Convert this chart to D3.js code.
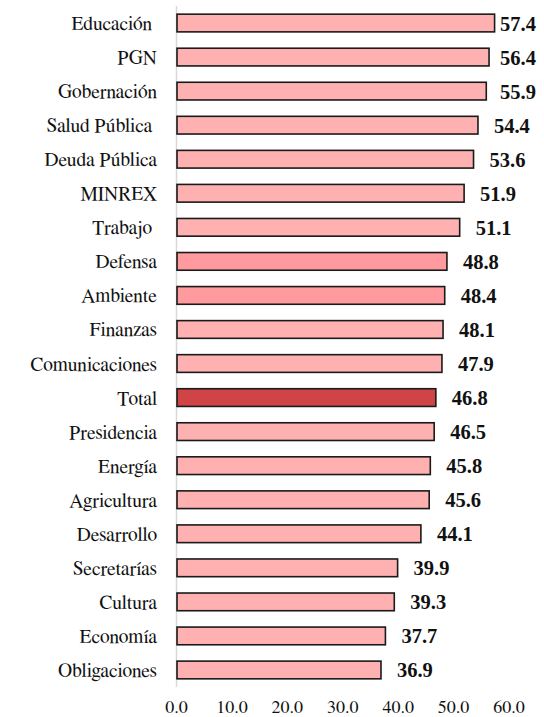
<!DOCTYPE html>
<html><head><meta charset="utf-8">
<script src="https://cdn.jsdelivr.net/npm/d3@7"></script>
</head><body style="margin:0">
<script>
const categories = ["Educación ","PGN","Gobernación","Salud Pública ","Deuda Pública","MINREX","Trabajo ","Defensa","Ambiente","Finanzas","Comunicaciones","Total","Presidencia","Energía","Agricultura","Desarrollo","Secretarías","Cultura","Economía","Obligaciones"];
const values = [57.4,56.4,55.9,54.4,53.6,51.9,51.1,48.8,48.4,48.1,47.9,46.8,46.5,45.8,45.6,44.1,39.9,39.3,37.7,36.9];
const barKind = ["n","n","n","n","n","n","n","m","m","n","n","t","n","n","n","n","n","n","n","n"];
const tickValues = [0,10,20,30,40,50,60];

const W = 544, H = 717;
const colors = {n:"#ffb1b1", m:"#ff9a9e", t:"#d04448"};
const REG_FONT = '"FreeSerif", "Nimbus Roman", "Liberation Serif", serif';
const svg = d3.select("body").append("svg").attr("width", W).attr("height", H).style("display","block");

const x = d3.scaleLinear().domain([0,60]).range([176.5, 509]);
const y = d3.scaleBand().domain(d3.range(categories.length)).range([6, 687]).paddingInner(0.48).paddingOuter(0.24);

svg.append("line").attr("x1", 176.5).attr("x2", 176.5).attr("y1", 6).attr("y2", 687)
  .attr("stroke", "#d9d9d9").attr("stroke-width", 1.5);

svg.selectAll("rect.bar").data(values).join("rect")
  .attr("class","bar")
  .attr("x", x(0)+0.5)
  .attr("y", (d,i) => y(i))
  .attr("width", d => x(d) - x(0) - 0.5)
  .attr("height", y.bandwidth())
  .attr("fill", (d,i) => colors[barKind[i]])
  .attr("stroke", "#1a1a1a").attr("stroke-width", 1.6);

svg.selectAll("text.cat").data(categories).join("text")
  .attr("class","cat")
  .attr("x", 157)
  .attr("y", (d,i) => y(i) + y.bandwidth()/2 + 7)
  .attr("text-anchor", "end")
  .style("font-family", REG_FONT)
  .attr("font-size", 19.5)
  .attr("xml:space", "preserve")
  .attr("fill", "#111")
  .text(d => d);

svg.selectAll("text.val").data(values).join("text")
  .attr("class","val")
  .attr("x", d => Math.min(x(d) + 16, 500))
  .attr("y", (d,i) => y(i) + y.bandwidth()/2 + 7.5)
  .style("font-family", '"Liberation Serif"')
  .attr("font-weight", "bold")
  .attr("font-size", 20.5)
  .attr("fill", "#111")
  .text(d => d3.format(".1f")(d));

svg.append("g").selectAll("text.tick").data(tickValues).join("text")
  .attr("class","tick")
  .attr("x", d => x(d))
  .attr("y", 713)
  .attr("text-anchor", "middle")
  .style("font-family", REG_FONT)
  .attr("font-size", 18)
  .attr("fill", "#111")
  .text(d => d3.format(".1f")(d));
</script>
</body></html>
